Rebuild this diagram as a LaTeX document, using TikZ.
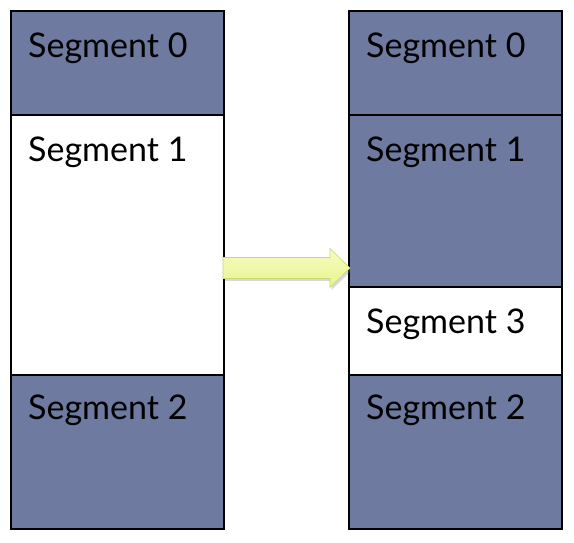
\documentclass[tikz,border=0pt]{standalone}
\usepackage{fontspec}
\setmainfont{Lato}
\usetikzlibrary{shadows,calc}
\definecolor{segblue}{HTML}{6E7AA0}
\definecolor{arrowfill}{HTML}{E8F58A}
\definecolor{arrowtop}{HTML}{F6FBC4}
\definecolor{arrowedge}{HTML}{C9D676}
\tikzset{
  seg/.style={draw=black, line width=1.2pt, minimum width=213pt, inner sep=0pt, outer sep=0pt, anchor=north west},
  full/.style={seg, fill=segblue},
  empty/.style={seg, fill=white},
  lab/.style={anchor=base west, inner sep=0pt, font=\fontsize{34}{40}\selectfont},
  blockarrow/.style={draw=arrowedge, line width=0.6pt, top color=arrowtop, bottom color=arrowfill,
      drop shadow={opacity=0.3, shadow xshift=1.5pt, shadow yshift=-2.5pt}}
}
\begin{document}
\begin{tikzpicture}[x=1pt,y=1pt]
\useasboundingbox (0,0) rectangle (574,542);
% left column
\node[full,  minimum height=104pt] (L0) at (11,531) {};
\node[empty, minimum height=260pt] (L1) at (11,427) {};
\node[full,  minimum height=154pt] (L2) at (11,167) {};
% right column
\node[full,  minimum height=104pt] (R0) at (349,531) {};
\node[full,  minimum height=172pt] (R1) at (349,427) {};
\node[empty, minimum height=88pt]  (R3) at (349,255) {};
\node[full,  minimum height=154pt] (R2) at (349,167) {};
% labels
\node[lab] (tL0) at (28,484) {Segment 0};
\node[lab] (tL1) at (28,380) {Segment 1};
\node[lab] (tL2) at (28,122) {Segment 2};
\node[lab] (tR0) at (366,484) {Segment 0};
\node[lab] (tR1) at (366,380) {Segment 1};
\node[lab] (tR3) at (366,208) {Segment 3};
\node[lab] (tR2) at (366,122) {Segment 2};
% arrow
\coordinate (tail) at ($(L1.east |- 0,274)+(-1,0)$);
\coordinate (tip) at ($(R1.west |- 0,274)+(1,0)$);
\path[blockarrow]
  ($(tail)+(0,10.5)$) -- ($(tip)+(-20,10.5)$) -- ($(tip)+(-20,19.5)$) -- (tip)
  -- ($(tip)+(-20,-19.5)$) -- ($(tip)+(-20,-10.5)$) -- ($(tail)+(0,-10.5)$) -- cycle;
\end{tikzpicture}
\end{document}
